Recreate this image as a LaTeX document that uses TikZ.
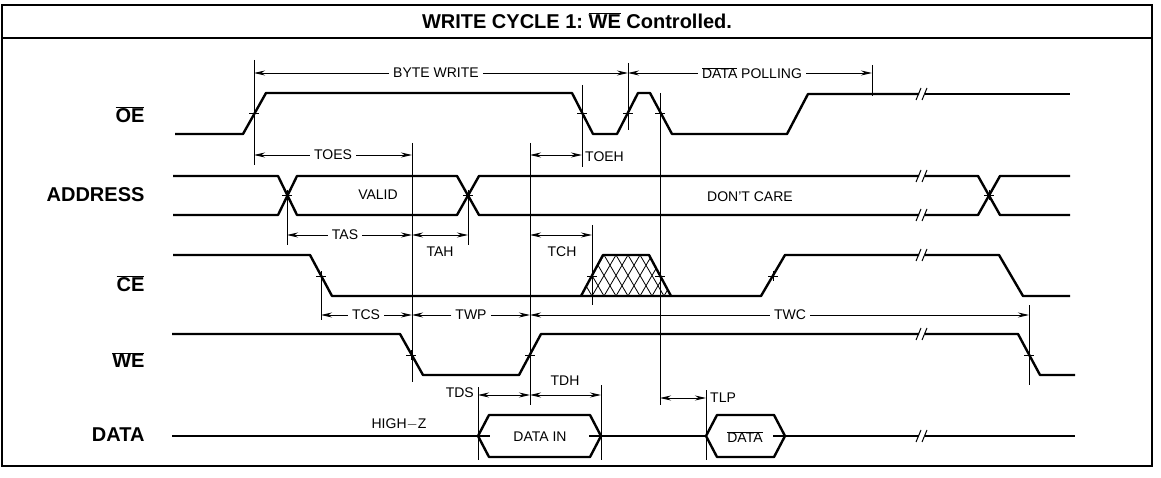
\documentclass[tikz,border=0pt]{standalone}
\usepackage{fontspec}
\setmainfont{Liberation Sans}
\usetikzlibrary{arrows.meta, positioning, calc}
\newcommand{\ovl}[1]{$\overline{\mbox{#1}}$}

\begin{document}
\begin{tikzpicture}[x=1pt, y=-1pt, >={Stealth[length=11pt,width=5pt]},
  sig/.style={line width=2.4pt, line join=round},
  dimln/.style={line width=0.9pt},
  extln/.style={line width=0.9pt},
  tlab/.style={font=\fontsize{14}{16}\selectfont, inner sep=4pt},
  sname/.style={font=\fontsize{20}{22}\selectfont\bfseries, anchor=east}]
  \useasboundingbox (0,0) rectangle (1161,478);

  % Frame and title bar
  \draw[line width=2.5pt] (2,5) rectangle (1152,466);
  \draw[line width=2.5pt] (2,38) -- (1152,38);
  \node[font=\fontsize{20}{22}\selectfont\bfseries] (title) at (577,21)
    {WRITE CYCLE 1:\ \ovl{WE} Controlled.};

  % Signal names
  \node[sname] (nOE) at (148,115) {\ovl{OE}};
  \node[sname] (nADDR) at (148,195) {ADDRESS};
  \node[sname] (nCE) at (148,284) {\ovl{CE}};
  \node[sname] (nWE) at (148,360) {\ovl{WE}};
  \node[sname] (nDATA) at (148,435) {DATA};

  % OE waveform
  \draw[sig] (175,134) -- (243,134) -- (266,93) -- (572,93) -- (593,134) -- (617,134)
    -- (638,93) -- (650,93) -- (672,134) -- (787,134) -- (808,94) -- (919,94);
  \draw[sig] (925,94) -- (1070,94);

  % ADDRESS waveform
  \draw[sig] (173,176) -- (278,176) -- (297,215) -- (457,215) -- (479,176) -- (919,176);
  \draw[sig] (925,176) -- (978,176) -- (1000,215) -- (1070,215);
  \draw[sig] (173,215) -- (278,215) -- (297,176) -- (457,176) -- (479,215) -- (919,215);
  \draw[sig] (925,215) -- (978,215) -- (1000,176) -- (1070,176);
  \node[tlab] (valid) at (378,195) {VALID};
  \node[tlab] (dontcare) at (750,197) {DON'T CARE};

  % CE waveform with the don't-care glitch
  \begin{scope}
    \clip (581,296) -- (603,255) -- (649,255) -- (671,296) -- cycle;
    \foreach \i in {0,...,10} {
      \draw[line width=0.8pt] (556+12*\i,296) -- ++(24,-41);
      \draw[line width=0.8pt] (556+12*\i,255) -- ++(24,41);
    }
  \end{scope}
  \draw[sig] (581,296) -- (603,255) -- (649,255) -- (671,296);
  \draw[sig] (173,255) -- (310,255) -- (332,296) -- (761,296) -- (785,255) -- (919,255);
  \draw[sig] (925,255) -- (999,255) -- (1023,296) -- (1070,296);

  % WE waveform
  \draw[sig] (172,334) -- (400,334) -- (423,375) -- (519,375) -- (541,334) -- (919,334);
  \draw[sig] (925,334) -- (1018,334) -- (1040,375) -- (1075,375);

  % DATA waveform
  \draw[line width=1.5pt] (172,436) -- (478,436) (601,436) -- (706,436) (785,436) -- (919,436);
  \draw[line width=1.5pt] (925,436) -- (1075,436);
  \draw[sig] (478,436) -- (489,415) -- (590,415) -- (601,436) -- (590,457) -- (489,457) -- cycle;
  \draw[line width=1.2pt] (478,436) -- (490,436) (589,436) -- (601,436);
  \draw[sig] (706,436) -- (717,415) -- (774,415) -- (785,436) -- (774,457) -- (717,457) -- cycle;
  \draw[line width=1.2pt] (773,436) -- (785,436);
  \node[tlab] (highz) at (399,424) {HIGH$-$Z};
  \node[tlab] (datain) at (540,437) {DATA IN};
  \node[tlab] (dataout) at (745,437) {\ovl{DATA}};

  % Break marks
  \foreach \y in {94,176,215,255,334,436}
    \draw[line width=1pt] (916,\y+6) -- (921,\y-6) (922,\y+6) -- (927,\y-6);

  % Crossing ticks
  \foreach \x/\y in {254/113, 582/113, 628/113, 660/113, 287/195, 468/195, 989/195,
                     321/276, 592/276, 660/276, 773/276, 411/355, 530/355, 1029/355}
    \draw[extln] (\x-5,\y) -- (\x+5,\y) (\x,\y-5) -- (\x,\y+5);

  % Extension lines
  \coordinate (eA) at (254,0);  \coordinate (eB) at (287,0);  \coordinate (eC) at (321,0);
  \coordinate (eD) at (412,0);  \coordinate (eE) at (468,0);  \coordinate (eF) at (478,0);
  \coordinate (eG) at (530,0);  \coordinate (eH) at (582,0);  \coordinate (eI) at (592,0);
  \coordinate (eJ) at (601,0);  \coordinate (eK) at (628,0);  \coordinate (eL) at (660,0);
  \coordinate (eM) at (706,0);  \coordinate (eN) at (872,0);  \coordinate (eO) at (1029,0);
  \draw[extln] (254,60) -- (254,165);   \draw[extln] (287,195) -- (287,245);
  \draw[extln] (321,276) -- (321,320);  \draw[extln] (412,143) -- (412,382);
  \draw[extln] (468,195) -- (468,245);  \draw[extln] (478,387) -- (478,460);
  \draw[extln] (530,143) -- (530,405);  \draw[extln] (582,85) -- (582,167);
  \draw[extln] (592,225) -- (592,305);  \draw[extln] (601,385) -- (601,460);
  \draw[extln] (628,63) -- (628,130);   \draw[extln] (660,93) -- (660,405);
  \draw[extln] (706,390) -- (706,460);  \draw[extln] (872,65) -- (872,96);
  \draw[extln] (1029,305) -- (1029,385);

  % Dimension rows
  \coordinate (rBW) at (0,73);  \coordinate (rOES) at (0,155); \coordinate (rAS) at (0,235);
  \coordinate (rWP) at (0,315); \coordinate (rDS) at (0,395);  \coordinate (rLP) at (0,398);

  % Byte write / data polling
  \node[tlab] (bytewr) at (436,73) {BYTE WRITE};
  \draw[dimln,->] (bytewr.west) -- (eA |- rBW);
  \draw[dimln,->] (bytewr.east) -- (eK |- rBW);
  \node[tlab] (dpoll) at (752,73) {\ovl{DATA} POLLING};
  \draw[dimln,->] (dpoll.west) -- (eK |- rBW);
  \draw[dimln,->] (dpoll.east) -- (eN |- rBW);

  % TOES / TOEH
  \node[tlab] (toes) at (333,155) {TOES};
  \draw[dimln,->] (toes.west) -- (eA |- rOES);
  \draw[dimln,->] (toes.east) -- (eD |- rOES);
  \draw[dimln,<->] (eG |- rOES) -- (eH |- rOES);
  \node[tlab, anchor=west, inner sep=2pt] (toeh) at (583,157) {TOEH};

  % TAS / TAH / TCH
  \node[tlab] (tas) at (345,235) {TAS};
  \draw[dimln,->] (tas.west) -- (eB |- rAS);
  \draw[dimln,->] (tas.east) -- (eD |- rAS);
  \draw[dimln,<->] (eD |- rAS) -- (eE |- rAS);
  \node[tlab] (tah) at (440,252) {TAH};
  \draw[dimln,<->] (eG |- rAS) -- (eI |- rAS);
  \node[tlab] (tch) at (562,252) {TCH};

  % TCS / TWP / TWC
  \node[tlab] (tcs) at (366,315) {TCS};
  \draw[dimln,->] (tcs.west) -- (eC |- rWP);
  \draw[dimln,->] (tcs.east) -- (eD |- rWP);
  \node[tlab] (twp) at (471,315) {TWP};
  \draw[dimln,->] (twp.west) -- (eD |- rWP);
  \draw[dimln,->] (twp.east) -- (eG |- rWP);
  \node[tlab] (twc) at (790,315) {TWC};
  \draw[dimln,->] (twc.west) -- (eG |- rWP);
  \draw[dimln,->] (twc.east) -- (eO |- rWP);

  % TDS / TDH / TLP
  \draw[dimln,<->] (eF |- rDS) -- (eG |- rDS);
  \node[tlab, anchor=east, inner sep=2pt] (tds) at (476,393) {TDS};
  \draw[dimln,<->] (eG |- rDS) -- (eJ |- rDS);
  \node[tlab] (tdh) at (565,381) {TDH};
  \draw[dimln,<->] (eL |- rLP) -- (eM |- rLP);
  \node[tlab, anchor=west, inner sep=2pt] (tlp) at (708,398) {TLP};
\end{tikzpicture}
\end{document}
